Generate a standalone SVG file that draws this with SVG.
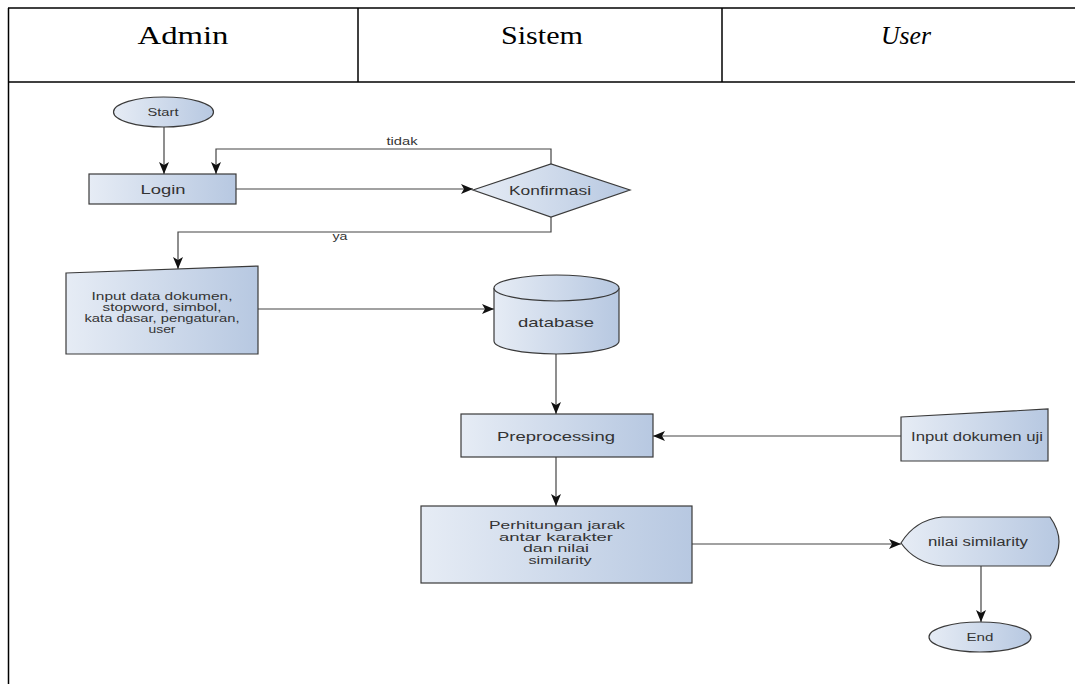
<svg xmlns="http://www.w3.org/2000/svg" width="1075" height="684" viewBox="0 0 1075 684">
  <style>
    .frame { stroke: #000; stroke-width: 1.5; fill: none; }
    .hdr { font-family: "Liberation Serif", "Times New Roman", serif; font-size: 26px; fill: #000; text-anchor: middle; }
    .shape { fill: url(#blueFill); stroke: #3a3a3a; stroke-width: 1.2; }
    .lbl { font-family: "Liberation Sans", Arial, sans-serif; fill: #333; text-anchor: middle; }
    .edge { stroke: #444; stroke-width: 1.2; fill: none; }
  </style>
  <defs>
    <linearGradient id="blueFill" x1="0" y1="0" x2="1" y2="0">
      <stop offset="0" stop-color="#e6ecf5"/>
      <stop offset="1" stop-color="#b7c8e1"/>
    </linearGradient>
    <marker id="arrow" viewBox="0 0 12 10" refX="12" refY="5" markerWidth="12" markerHeight="10" markerUnits="userSpaceOnUse" orient="auto">
      <path d="M0,0 L12,5 L0,10 L3,5 Z" fill="#111"/>
    </marker>
  </defs>

  <!-- swimlane table -->
  <g id="table">
    <line class="frame" x1="8" y1="8" x2="1075" y2="8"/>
    <line class="frame" x1="8" y1="82" x2="1075" y2="82"/>
    <line class="frame" x1="8.5" y1="8" x2="8.5" y2="684"/>
    <line class="frame" x1="358" y1="8" x2="358" y2="82"/>
    <line class="frame" x1="722" y1="8" x2="722" y2="82"/>
    <text class="hdr" x="183" y="44" textLength="91" lengthAdjust="spacingAndGlyphs">Admin</text>
    <text class="hdr" x="542" y="44" textLength="82" lengthAdjust="spacingAndGlyphs">Sistem</text>
    <text class="hdr" x="906" y="44" font-style="italic" textLength="50" lengthAdjust="spacingAndGlyphs">User</text>
  </g>

  <!-- connectors -->
  <g id="connectors">
    <line class="edge" x1="164" y1="127" x2="164" y2="174" marker-end="url(#arrow)"/>
    <polyline class="edge" points="551,164 551,149 216,149 216,174" marker-end="url(#arrow)"/>
    <text class="lbl" x="402" y="145" font-size="10" textLength="31" lengthAdjust="spacingAndGlyphs">tidak</text>
    <line class="edge" x1="236" y1="189" x2="473" y2="189" marker-end="url(#arrow)"/>
    <polyline class="edge" points="551,217 551,232 178,232 178,269" marker-end="url(#arrow)"/>
    <text class="lbl" x="340" y="240" font-size="10" textLength="15" lengthAdjust="spacingAndGlyphs">ya</text>
    <line class="edge" x1="258" y1="309" x2="494" y2="309" marker-end="url(#arrow)"/>
    <line class="edge" x1="556" y1="354" x2="556" y2="414" marker-end="url(#arrow)"/>
    <line class="edge" x1="901" y1="436" x2="653" y2="436" marker-end="url(#arrow)"/>
    <line class="edge" x1="556" y1="457" x2="556" y2="506" marker-end="url(#arrow)"/>
    <line class="edge" x1="692" y1="544" x2="901" y2="544" marker-end="url(#arrow)"/>
    <line class="edge" x1="981" y1="566" x2="981" y2="622" marker-end="url(#arrow)"/>
  </g>

  <g id="start">
    <ellipse class="shape" cx="163.5" cy="112" rx="50" ry="15"/>
    <text class="lbl" x="163" y="116" font-size="10.5" textLength="31" lengthAdjust="spacingAndGlyphs">Start</text>
  </g>

  <g id="login">
    <rect class="shape" x="89" y="174" width="147" height="30"/>
    <text class="lbl" x="163" y="194" font-size="13" textLength="45" lengthAdjust="spacingAndGlyphs">Login</text>
  </g>

  <g id="konfirmasi">
    <polygon class="shape" points="473,190 551,164 630,190 551,217"/>
    <text class="lbl" x="550" y="195" font-size="12" textLength="82" lengthAdjust="spacingAndGlyphs">Konfirmasi</text>
  </g>

  <g id="input-data">
    <polygon class="shape" points="66,273 258,266 258,354 66,354"/>
    <text class="lbl" x="162" y="300" font-size="10.5" textLength="141" lengthAdjust="spacingAndGlyphs">Input data dokumen,</text>
    <text class="lbl" x="162" y="311" font-size="10.5" textLength="119" lengthAdjust="spacingAndGlyphs">stopword, simbol,</text>
    <text class="lbl" x="162" y="322" font-size="10.5" textLength="155" lengthAdjust="spacingAndGlyphs">kata dasar, pengaturan,</text>
    <text class="lbl" x="162" y="333" font-size="10.5" textLength="27" lengthAdjust="spacingAndGlyphs">user</text>
  </g>

  <g id="database">
    <path class="shape" d="M494,288 L494,341 A62.5,13 0 0 0 619,341 L619,288 A62.5,13 0 0 0 494,288 Z"/>
    <path class="shape" d="M494,288 A62.5,13 0 0 0 619,288" fill="none"/>
    <text class="lbl" x="556" y="327" font-size="13" textLength="76" lengthAdjust="spacingAndGlyphs">database</text>
  </g>

  <g id="preprocessing">
    <rect class="shape" x="461" y="414" width="192" height="43"/>
    <text class="lbl" x="556" y="441" font-size="13" textLength="118" lengthAdjust="spacingAndGlyphs">Preprocessing</text>
  </g>

  <g id="input-dokumen-uji">
    <polygon class="shape" points="901,417 1048,409 1048,461 901,461"/>
    <text class="lbl" x="977" y="441" font-size="12.5" textLength="132" lengthAdjust="spacingAndGlyphs">Input dokumen uji</text>
  </g>

  <g id="perhitungan">
    <rect class="shape" x="421" y="506" width="271" height="77"/>
    <text class="lbl" x="557" y="529" font-size="11" textLength="136" lengthAdjust="spacingAndGlyphs">Perhitungan jarak</text>
    <text class="lbl" x="556" y="540.7" font-size="11" textLength="114" lengthAdjust="spacingAndGlyphs">antar karakter</text>
    <text class="lbl" x="556" y="552.4" font-size="11" textLength="66" lengthAdjust="spacingAndGlyphs">dan nilai</text>
    <text class="lbl" x="560" y="564" font-size="11" textLength="63" lengthAdjust="spacingAndGlyphs">similarity</text>
  </g>

  <g id="nilai-similarity">
    <path class="shape" d="M901,543 Q915,520 942,517 L1050,517 Q1068,542 1050,566 L942,566 Q915,563 901,543 Z"/>
    <text class="lbl" x="978" y="546" font-size="12.5" textLength="100" lengthAdjust="spacingAndGlyphs">nilai similarity</text>
  </g>

  <g id="end">
    <ellipse class="shape" cx="980" cy="637" rx="51" ry="15"/>
    <text class="lbl" x="980" y="641" font-size="10.5" textLength="27" lengthAdjust="spacingAndGlyphs">End</text>
  </g>
</svg>
